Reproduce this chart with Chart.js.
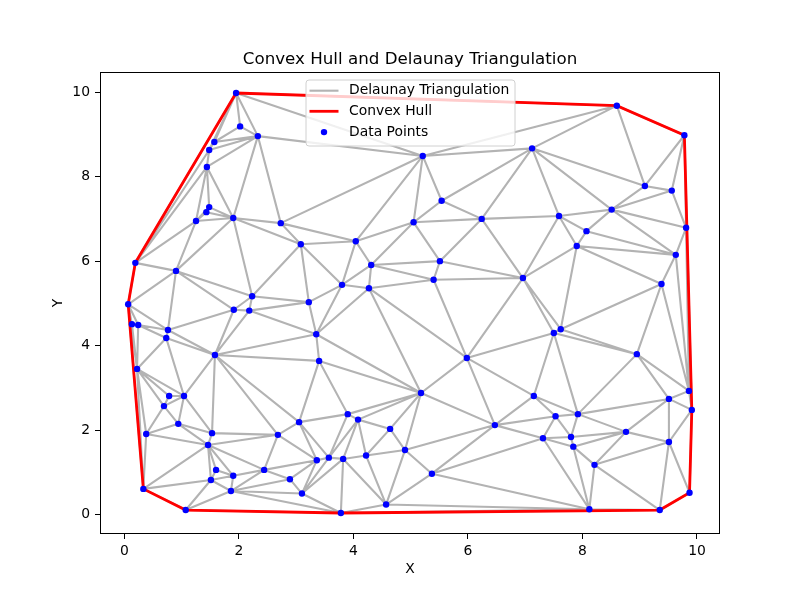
<!DOCTYPE html>
<html>
<head>
<meta charset="utf-8">
<script src="https://cdn.jsdelivr.net/npm/chart.js@4/dist/chart.umd.min.js"></script>
<style>
  html, body { margin: 0; padding: 0; background: #fff; }
  #wrap { width: 800px; height: 600px; }
</style>
</head>
<body>
<div id="wrap"><canvas id="chart" width="800" height="600"></canvas></div>
<script>
// point coordinates
const pointsX = [1.95, 2.02, 2.33, 1.57, 1.48, 1.44, 1.48, 1.43, 1.25, 1.90,
                 2.73, 0.19, 0.90, 3.08, 4.04, 4.31, 3.80, 4.27, 2.23, 3.22,
                 0.065, 1.91, 2.18, 8.60, 9.78, 5.21, 7.12, 9.09, 9.56, 5.54,
                 8.51, 9.81, 5.05, 6.24, 7.59, 8.07, 7.90, 9.63, 5.51, 5.40,
                 6.96, 9.38, 7.62, 7.50, 8.95, 5.98, 5.18, 7.15, 9.86, 9.51,
                 9.91, 7.53, 7.92, 6.47, 8.76, 7.31, 7.80, 7.84, 9.51, 4.90,
                 8.21, 5.37, 9.87, 8.12, 9.35, 0.13, 0.24, 0.76, 0.73, 1.58,
                 3.35, 3.40, 0.22, 0.78, 1.04, 0.69, 0.94, 0.38, 1.53, 1.46,
                 2.68, 3.05, 3.90, 4.08, 4.64, 3.36, 3.57, 3.82, 4.22, 1.60,
                 1.90, 2.44, 1.51, 2.89, 1.86, 3.10, 0.33, 1.07, 3.78, 4.57];
const pointsY = [9.98, 9.19, 8.96, 8.82, 8.63, 8.23, 7.28, 7.16, 6.95, 7.02,
                 6.90, 5.96, 5.77, 6.40, 6.47, 5.91, 5.44, 5.36, 5.17, 5.03,
                 4.98, 4.85, 4.83, 9.68, 8.98, 8.49, 8.67, 7.78, 7.67, 7.43,
                 7.22, 6.79, 6.92, 7.00, 7.07, 6.71, 6.36, 6.15, 6.00, 5.56,
                 5.60, 5.46, 4.39, 4.30, 3.80, 3.71, 2.88, 2.81, 2.93, 2.74,
                 2.48, 2.33, 2.38, 2.12, 1.96, 1.81, 1.84, 1.61, 1.72, 1.53,
                 1.18, 0.97, 0.52, 0.13, 0.11, 4.51, 4.49, 4.37, 4.18, 3.78,
                 4.27, 3.64, 3.45, 2.81, 2.81, 2.57, 2.15, 1.91, 1.93, 1.65,
                 1.89, 2.19, 2.38, 2.25, 2.03, 1.29, 1.35, 1.32, 1.40, 1.06,
                 0.92, 1.06, 0.82, 0.84, 0.56, 0.50, 0.61, 0.11, 0.04, 0.24];
const xTicks = [0, 2, 4, 6, 8, 10];
const yTicks = [0, 2, 4, 6, 8, 10];
const legendLabels = ['Delaunay Triangulation', 'Convex Hull', 'Data Points'];
const chartTitle = 'Convex Hull and Delaunay Triangulation';

const EDGE_COLOR = '#b3b3b3';
const HULL_COLOR = '#ff0000';
const POINT_COLOR = '#0000ff';

function circum(a, b, c) {
    const d = 2 * (a[0] * (b[1] - c[1]) + b[0] * (c[1] - a[1]) + c[0] * (a[1] - b[1]));
    const a2 = a[0] * a[0] + a[1] * a[1];
    const b2 = b[0] * b[0] + b[1] * b[1];
    const c2 = c[0] * c[0] + c[1] * c[1];
    const ux = (a2 * (b[1] - c[1]) + b2 * (c[1] - a[1]) + c2 * (a[1] - b[1])) / d;
    const uy = (a2 * (c[0] - b[0]) + b2 * (a[0] - c[0]) + c2 * (b[0] - a[0])) / d;
    return [ux, uy, (a[0] - ux) ** 2 + (a[1] - uy) ** 2];
}

// Bowyer-Watson, returns list of [i, j] edges
function delaunayEdges(xs, ys) {
    const P = xs.map((x, i) => [x, ys[i]]);
    const n = P.length;
    P.push([-1e4, -1e4], [3e4, -1e4], [-1e4, 3e4]);
    const mk = (a, b, c) => {
        const cc = circum(P[a], P[b], P[c]);
        return { v: [a, b, c], cx: cc[0], cy: cc[1], r2: cc[2] };
    };
    let tris = [mk(n, n + 1, n + 2)];
    for (let i = 0; i < n; i++) {
        const [x, y] = P[i];
        const bad = [], keep = [];
        tris.forEach(t => {
            ((x - t.cx) ** 2 + (y - t.cy) ** 2 < t.r2 ? bad : keep).push(t);
        });
        const edges = [];
        bad.forEach(t => {
            for (let k = 0; k < 3; k++) edges.push([t.v[k], t.v[(k + 1) % 3]]);
        });
        const boundary = edges.filter((e, idx) => !edges.some((f, j) =>
            j !== idx && ((f[0] === e[0] && f[1] === e[1]) || (f[0] === e[1] && f[1] === e[0]))));
        boundary.forEach(e => keep.push(mk(e[0], e[1], i)));
        tris = keep;
    }
    const seen = new Set();
    const out = [];
    tris.forEach(t => {
        if (t.v.some(v => v >= n)) return;
        for (let k = 0; k < 3; k++) {
            const a = Math.min(t.v[k], t.v[(k + 1) % 3]);
            const b = Math.max(t.v[k], t.v[(k + 1) % 3]);
            const key = a + ',' + b;
            if (!seen.has(key)) { seen.add(key); out.push([a, b]); }
        }
    });
    return { edges: out, seen };
}

// monotone chain, returns closed list of indices
function convexHull(xs, ys) {
    const idx = xs.map((_, i) => i).sort((a, b) => xs[a] - xs[b] || ys[a] - ys[b]);
    const cross = (o, a, b) => (xs[a] - xs[o]) * (ys[b] - ys[o]) - (ys[a] - ys[o]) * (xs[b] - xs[o]);
    const lower = [], upper = [];
    idx.forEach(i => {
        while (lower.length >= 2 && cross(lower[lower.length - 2], lower[lower.length - 1], i) <= 0) lower.pop();
        lower.push(i);
    });
    idx.slice().reverse().forEach(i => {
        while (upper.length >= 2 && cross(upper[upper.length - 2], upper[upper.length - 1], i) <= 0) upper.pop();
        upper.push(i);
    });
    const hull = lower.slice(0, -1).concat(upper.slice(0, -1));
    hull.push(hull[0]);
    return hull;
}

const tri = delaunayEdges(pointsX, pointsY);
const hull = convexHull(pointsX, pointsY);
// hull edges always belong to the triangulation
for (let k = 0; k < hull.length - 1; k++) {
    const a = Math.min(hull[k], hull[k + 1]), b = Math.max(hull[k], hull[k + 1]);
    if (!tri.seen.has(a + ',' + b)) { tri.seen.add(a + ',' + b); tri.edges.push([a, b]); }
}

const edgeData = [];
tri.edges.forEach(([a, b]) => {
    edgeData.push({ x: pointsX[a], y: pointsY[a] }, { x: pointsX[b], y: pointsY[b] }, { x: null, y: null });
});
const hullData = hull.map(i => ({ x: pointsX[i], y: pointsY[i] }));
const pointData = pointsX.map((x, i) => ({ x, y: pointsY[i] }));

// matplotlib style 5% margins
const xLo = Math.min(...pointsX), xHi = Math.max(...pointsX);
const yLo = Math.min(...pointsY), yHi = Math.max(...pointsY);
const xPad = (xHi - xLo) * 0.05, yPad = (yHi - yLo) * 0.05;

// frame on all four sides + title centred over the plot area
const framePlugin = {
    id: 'frame',
    afterDraw(chart) {
        const { ctx, chartArea: a } = chart;
        ctx.save();
        ctx.strokeStyle = '#000';
        ctx.lineWidth = 1;
        ctx.strokeRect(a.left + 0.5, a.top + 0.5, a.right - a.left - 1, a.bottom - a.top - 1);
        ctx.font = '16.7px "DejaVu Sans"';
        ctx.fillStyle = '#000';
        ctx.textAlign = 'center';
        ctx.textBaseline = 'alphabetic';
        ctx.fillText(chartTitle, (a.left + a.right) / 2, a.top - 8.3);
        ctx.restore();
    }
};

const legendPlugin = {
    id: 'boxLegend',
    afterDraw(chart) {
        const { ctx, chartArea: a } = chart;
        const w = 209, h = 66;
        const x0 = (a.left + a.right) / 2 - w / 2, y0 = a.top + 7.5;
        ctx.save();
        ctx.beginPath();
        ctx.roundRect(x0 + 0.5, y0 + 0.5, w, h, 3);
        ctx.fillStyle = 'rgba(255,255,255,0.8)';
        ctx.fill();
        ctx.strokeStyle = '#d0d0d0';
        ctx.lineWidth = 1;
        ctx.stroke();
        ctx.font = '13.9px "DejaVu Sans"';
        ctx.textBaseline = 'middle';
        ctx.fillStyle = '#000';
        const rows = [y0 + 11.2, y0 + 31.8, y0 + 52.6];
        const sx = x0 + 4, ex = x0 + 33;
        ctx.lineCap = 'butt';
        ctx.strokeStyle = EDGE_COLOR; ctx.lineWidth = 2.1;
        ctx.beginPath(); ctx.moveTo(sx, rows[0]); ctx.lineTo(ex, rows[0]); ctx.stroke();
        ctx.strokeStyle = HULL_COLOR; ctx.lineWidth = 2.8;
        ctx.beginPath(); ctx.moveTo(sx, rows[1]); ctx.lineTo(ex, rows[1]); ctx.stroke();
        ctx.fillStyle = POINT_COLOR;
        ctx.beginPath(); ctx.arc((sx + ex) / 2, rows[2], 3.2, 0, Math.PI * 2); ctx.fill();
        ctx.fillStyle = '#000';
        legendLabels.forEach((t, i) => ctx.fillText(t, x0 + 43.5, rows[i]));
        ctx.restore();
    }
};

Chart.defaults.font.family = '"DejaVu Sans", sans-serif';
Chart.defaults.font.size = 13.9;
Chart.defaults.color = '#000';

new Chart(document.getElementById('chart'), {
    type: 'scatter',
    data: {
        datasets: [
            {
                label: legendLabels[2], data: pointData, order: 0,
                pointRadius: 3.2, pointHoverRadius: 3.2, borderWidth: 0,
                backgroundColor: POINT_COLOR, pointBorderWidth: 0
            },
            {
                label: legendLabels[1], data: hullData, order: 1, showLine: true,
                borderColor: HULL_COLOR, borderWidth: 2.8, pointRadius: 0, tension: 0
            },
            {
                label: legendLabels[0], data: edgeData, order: 2, showLine: true, spanGaps: false,
                borderColor: EDGE_COLOR, borderWidth: 2.1, pointRadius: 0, tension: 0
            }
        ]
    },
    options: {
        responsive: false,
        animation: false,
        layout: { padding: { left: 0, right: 80, top: 72, bottom: 0 } },
        plugins: {
            legend: { display: false },
            tooltip: { enabled: false },
            title: { display: false }
        },
        scales: {
            x: {
                type: 'linear',
                min: xLo - xPad, max: xHi + xPad,
                afterBuildTicks: s => { s.ticks = xTicks.map(v => ({ value: v })); },
                afterFit: s => { s.height = 66; },
                grid: { drawOnChartArea: false, drawTicks: true, tickLength: 5, color: '#000' },
                border: { display: false },
                ticks: { padding: 4, maxRotation: 0, autoSkip: false },
                title: { display: true, text: 'X', padding: { top: 0, bottom: 22.3 } }
            },
            y: {
                type: 'linear',
                min: yLo - yPad, max: yHi + yPad,
                afterBuildTicks: s => { s.ticks = yTicks.map(v => ({ value: v })); },
                afterFit: s => { s.width = 100; },
                grid: { drawOnChartArea: false, drawTicks: true, tickLength: 5, color: '#000' },
                border: { display: false },
                ticks: { padding: 5, autoSkip: false },
                title: { display: true, text: 'Y', padding: { top: 50, bottom: 0 } }
            }
        }
    },
    plugins: [framePlugin, legendPlugin]
});
</script>
</body>
</html>
